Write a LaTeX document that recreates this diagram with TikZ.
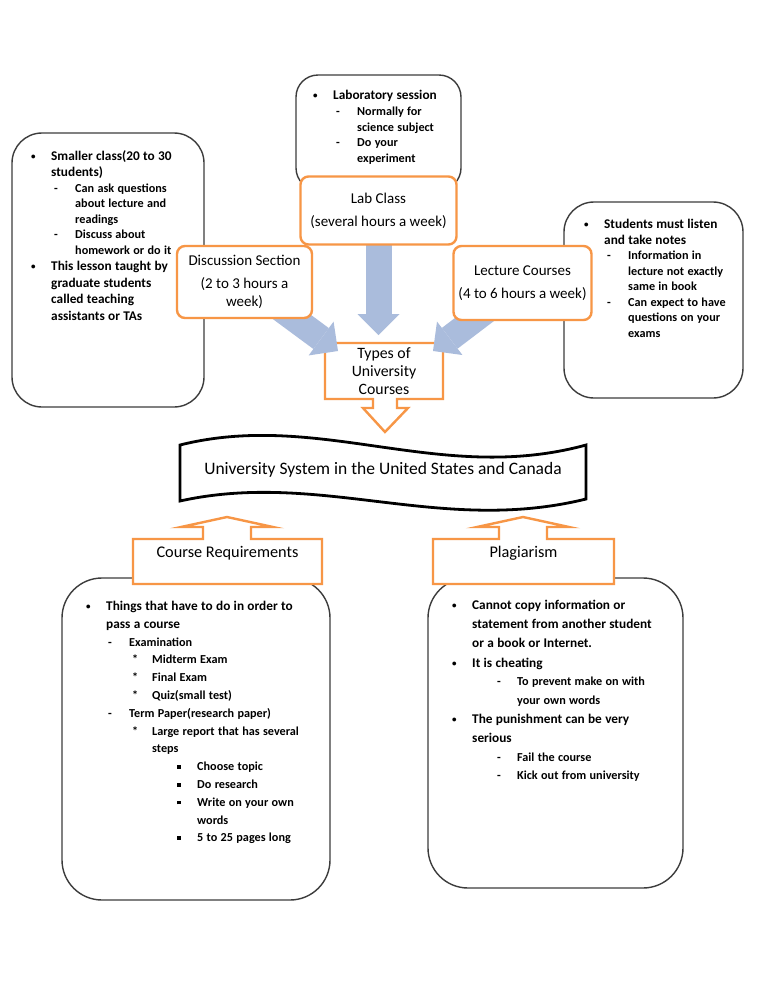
\documentclass[tikz,border=0pt]{standalone}
\usepackage{fontspec}
\setmainfont{Carlito}
\usetikzlibrary{arrows.meta,backgrounds,calc,positioning}
\definecolor{boxorange}{RGB}{247,150,70}
\definecolor{arrowblue}{RGB}{170,188,220}
\definecolor{noteline}{RGB}{60,60,60}
% list lines: marker position, text position, marker (each item ends with \par)
\newcommand{\li}[3]{\leftskip=#2pt\relax\noindent\hbox to 0pt{\hskip\dimexpr#1pt-#2pt\relax#3\hss}\ignorespaces}
\newcommand{\bulmark}{\raisebox{1pt}{\fontsize{9}{9}\selectfont •}}
\newcommand{\bul}{\li{0}{20}{\bulmark}}
\newcommand{\dsh}{\li{23}{44}{-}}
\newcommand{\sta}{\li{46}{66}{*}}
\newcommand{\sqr}{\li{91}{111}{\rule[2pt]{3.5pt}{3.5pt}}}
\newcommand{\sz}[2]{\fontsize{#1}{#2}\selectfont}

\begin{document}
\begin{tikzpicture}[x=1pt,y=-1pt,
  notebox/.style={draw=noteline,line width=1.4pt,fill=white,inner sep=0pt},
  notetext/.style={anchor=base west,inner sep=0pt,text width=300pt,align=left,font=\bfseries},
  kindbox/.style={draw=boxorange,line width=2.4pt,rounded corners=8pt,fill=white,align=center,inner sep=0pt,font=\sz{15}{18}},
  calloutline/.style={draw=boxorange,line width=2.4pt,fill=white},
  flowarrow/.style={draw=arrowblue,line width=26pt,-{Triangle[length=21pt,width=42pt,line width=0pt]}}]
\useasboundingbox (0,0) rectangle (768,994);

% notes round the course types
\node[notebox,rounded corners=22pt,minimum width=165,minimum height=115] (labnote) at (378.5,132.5) {};
\node[notetext] (labtext) at (313,99) {%
  \sz{13.3}{16}\bul Laboratory session\par\vspace{1.5pt}
  \sz{12.2}{15.4}\dsh Normally for\\science subject\par
  \dsh Do your\\experiment\par};
\node[notebox,rounded corners=30pt,minimum width=192,minimum height=274] (leftnote) at (108,270) {};
\node[notetext] (lefttext) at (31,160) {%
  \sz{13.3}{16.5}\bul Smaller class(20 to 30\\students)\par
  \sz{12.2}{15.5}\dsh Can ask questions\\about lecture and\\readings\par
  \dsh Discuss about\\homework or do it\par
  \sz{13.3}{16.5}\bul This lesson taught by\\graduate students\\called teaching\\assistants or TAs\par};
\node[notebox,rounded corners=30pt,minimum width=179,minimum height=196] (rightnote) at (653.5,300) {};
\node[notetext] (righttext) at (584,228) {%
  \sz{13.3}{16}\bul Students must listen\\and take notes\par
  \sz{12.2}{15.5}\dsh Information in\\lecture not exactly\\same in book\par
  \dsh Can expect to have\\questions on your\\exams\par};

% course types
\node[kindbox,minimum width=156,minimum height=68] (lab) at (378.5,210.5) {Lab Class\\[5pt](several hours a week)};
\node[kindbox,minimum width=135,minimum height=72] (disc) at (244.5,282) {Discussion Section\\[5pt](2 to 3 hours a\\week)};
\node[kindbox,minimum width=138,minimum height=74] (lecture) at (522.5,283) {Lecture Courses\\[5pt](4 to 6 hours a week)};

\coordinate (tipC) at (lab.center |- 0,335);
\coordinate (tipD) at (338,351);
\coordinate (tipL) at (433,351);
\begin{scope}[on background layer]
  \fill[white] (0,0) rectangle (768,994);
  \draw[calloutline] (325,343) -- (443,343) -- (443,399) -- (397,399) -- (397,408) -- (408,408)
    -- (385,432) -- (363,408) -- (373,408) -- (373,399) -- (325,399) -- cycle;
  \node[align=center,font=\sz{15.8}{18}] (types) at (384,371) {Types of\\University\\Courses};
  \draw[flowarrow] (lab.center) -- (tipC);
  \draw[flowarrow] (disc.center) -- (tipD);
  \draw[flowarrow] (lecture.center) -- (tipL);
\end{scope}

% banner
\draw[line width=2.8pt,fill=white] (180,445) .. controls (320,410) and (440,485) .. (586,445)
  -- (586,499) .. controls (440,535) and (320,470) .. (180,501) -- cycle;
\node[anchor=base,font=\sz{17.5}{20}] (banner) at (383,474) {University System in the United States and Canada};

% requirements and plagiarism
\node[notebox,rounded corners=40pt,minimum width=268,minimum height=322] (reqnote) at (196,739) {};
\node[notetext] (reqtext) at (86,610) {%
  \sz{13.3}{18.3}\bul Things that have to do in order to\\pass a course\par
  \sz{12.2}{17.8}\li{22}{43}{-} Examination\par
  \sta Midterm Exam\par
  \sta Final Exam\par
  \sta Quiz(small test)\par
  \li{22}{43}{-} Term Paper(research paper)\par
  \sta Large report that has several\\steps\par
  \sqr Choose topic\par
  \sqr Do research\par
  \sqr Write on your own\\words\par
  \sqr 5 to 25 pages long\par};
\node[notebox,rounded corners=40pt,minimum width=255,minimum height=310] (plagnote) at (555.5,733) {};
\node[notetext] (plagtext) at (452,609) {%
  \sz{13.3}{19.2}\bul Cannot copy information or\\statement from another student\\or a book or Internet.\par\vspace{1pt}
  \bul It is cheating\par
  \sz{12.2}{18.3}\li{45}{65}{-} To prevent make on with\\your own words\par
  \sz{13.3}{19.2}\bul The punishment can be very\\serious\par
  \sz{12.2}{17.5}\vspace{1.5pt}\li{45}{65}{-} Fail the course\par
  \li{45}{65}{-} Kick out from university\par};

\foreach \l/\r/\c in {133/322/227, 433/614/523}
  \draw[calloutline] (\l,539) -- (\c-24,539) -- (\c-24,527) -- (\c-46,527) -- (\c,517)
    -- (\c+46,527) -- (\c+24,527) -- (\c+24,539) -- (\r,539) -- (\r,584) -- (\l,584) -- cycle;
\node[anchor=base,font=\sz{16.3}{20}] (req) at (227.5,557) {Course Requirements};
\node[anchor=base,font=\sz{16.3}{20}] (plag) at (523.5,557) {Plagiarism};
\end{tikzpicture}
\end{document}
